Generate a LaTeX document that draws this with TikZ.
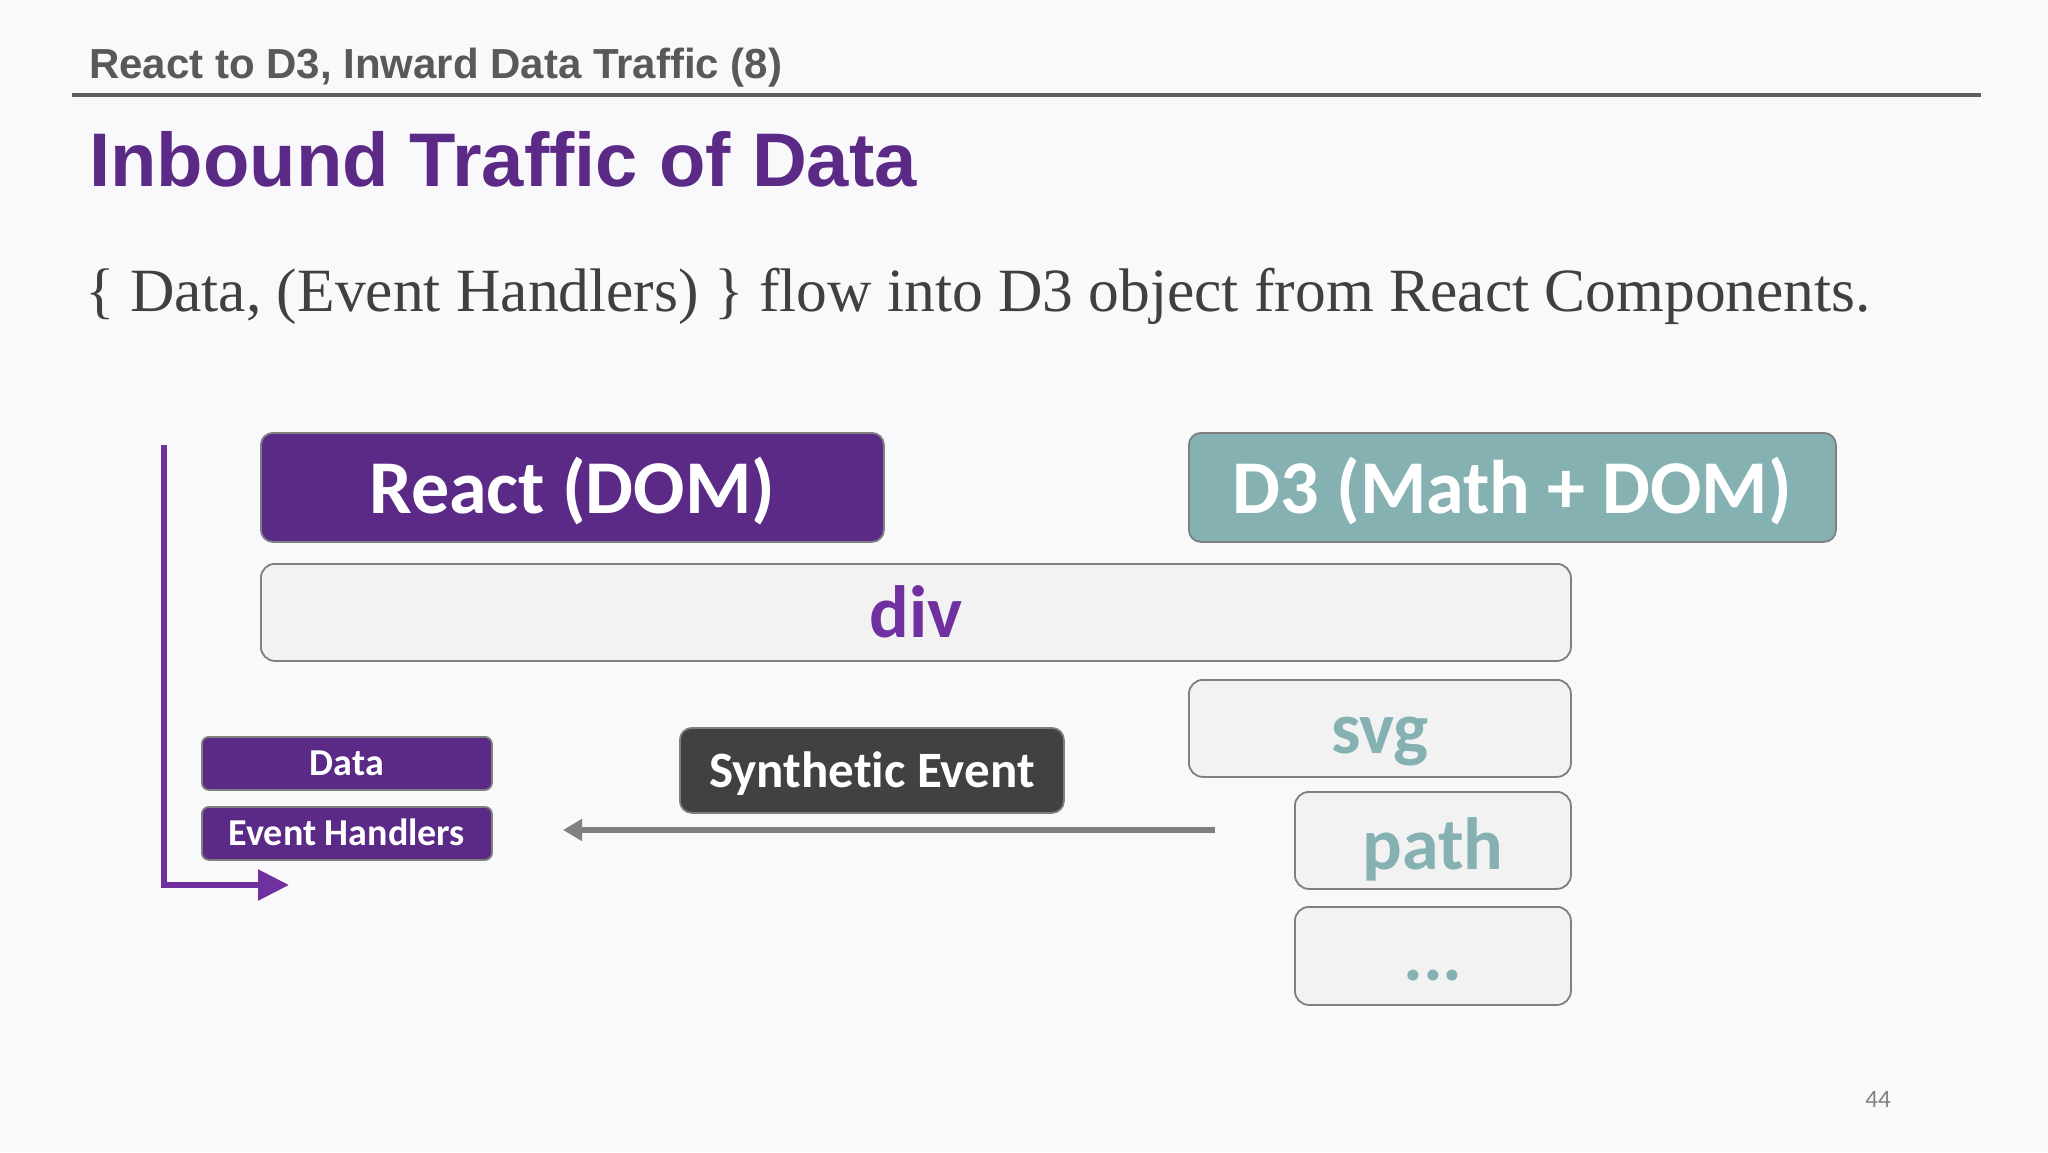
\documentclass[tikz,border=0pt]{standalone}
\usepackage{fontspec}
\setmainfont{Liberation Serif}
\newfontfamily\headfont{Liberation Sans}
\newfontfamily\calfont[Ligatures={NoCommon}]{Carlito}
\usepackage{tikz}
\usetikzlibrary{positioning,arrows.meta}

\definecolor{slidebg}{HTML}{F9F8FA}
\definecolor{rulegrey}{HTML}{5F5F5F}
\definecolor{headgrey}{HTML}{595959}
\definecolor{bodygrey}{HTML}{404040}
\definecolor{reactpurple}{HTML}{5B2A86}
\definecolor{divpurple}{HTML}{7030A0}
\definecolor{d3teal}{HTML}{85B1B3}
\definecolor{edgegrey}{HTML}{7F7F7F}
\definecolor{domfill}{HTML}{F2F2F3}
\definecolor{eventdark}{HTML}{414042}
\definecolor{flowgrey}{HTML}{808080}

\begin{document}
\begin{tikzpicture}
  [
    x=1pt, y=-1pt,
    box/.style      = {draw=edgegrey, line width=1.8pt, anchor=north west,
                       inner sep=0pt, rounded corners=12pt},
    libbox/.style   = {box, text=white,
                       font=\calfont\bfseries\fontsize{76}{80}\selectfont,
                       text height=62pt, text depth=9pt},
    domnode/.style  = {box, fill=domfill, rounded corners=14pt,
                       font=\calfont\bfseries\fontsize{74}{80}\selectfont,
                       text height=60pt, text depth=10pt},
    propbox/.style  = {box, fill=reactpurple, text=white, rounded corners=7pt,
                       minimum width=290pt, minimum height=53pt,
                       font=\calfont\bfseries\fontsize{38}{40}\selectfont,
                       text height=30pt, text depth=5pt},
  ]

  % slide background and frame
  \fill[slidebg] (0,0) rectangle (2048,1152);
  \useasboundingbox (0,0) rectangle (2048,1152);

  % heading
  \node (head) at (89,78) [anchor=base west, inner sep=0pt, text=headgrey,
    font=\headfont\bfseries\fontsize{42}{48}\selectfont]
    {React to D3, Inward Data Traffic (8)};
  \draw[rulegrey, line width=4pt] (72,95) -- (1981,95);
  \node (title) at (89,186) [anchor=base west, inner sep=0pt, text=reactpurple,
    font=\headfont\bfseries\fontsize{76}{80}\selectfont]
    {Inbound Traffic of Data};
  \node (intro) at (85,311) [anchor=base west, inner sep=0pt, text=bodygrey,
    font=\fontsize{61.5}{66}\selectfont]
    {\{ Data, (Event Handlers) \} flow into D3 object from React Components.};

  % the two libraries
  \node (react) at (260,432) [libbox, fill=reactpurple,
    minimum width=623pt, minimum height=109pt] {React (DOM)};
  \node (d3) at (1188,432) [libbox, fill=d3teal,
    minimum width=647pt, minimum height=109pt] {D3 (Math + DOM)};

  % dom tree
  \node (div) at (260,563) [domnode, text=divpurple,
    minimum width=1310pt, minimum height=97pt] {div};
  \node (svg) at (1188,679) [domnode, text=d3teal,
    minimum width=382pt, minimum height=97pt] {svg};
  \node (path) at (1294,791) [domnode, text=d3teal,
    minimum width=276pt, minimum height=97pt,
    text height=66pt, text depth=8pt] {path};
  \node (more) at (1294,906) [domnode, text=d3teal,
    minimum width=276pt, minimum height=98pt] {...};

  % props handed down
  \node (data) at (201,736) [propbox] {Data};
  \node (handlers) at (201,806) [propbox] {Event Handlers};

  % event coming back
  \node (synth) at (679,727) [box, fill=eventdark, text=white,
    minimum width=384pt, minimum height=85pt,
    font=\calfont\bfseries\fontsize{51}{56}\selectfont,
    text height=40pt, text depth=5pt] {Synthetic Event};
  \coordinate (evstart) at (1215,830);
  \coordinate (evend) at (563,830);
  \draw[flowgrey, line width=6pt, -{Triangle[length=19pt, width=21pt]}]
    (evstart) -- (evend);

  % inward flow
  \coordinate (flowtop) at (164,445);
  \coordinate (flowend) at (289,885);
  \draw[divpurple, line width=5.5pt, -{Triangle[length=31pt, width=30pt]}]
    (flowtop) |- (flowend);

  % page number
  \node (page) at (1878,1099) [text=flowgrey,
    font=\calfont\fontsize{25}{28}\selectfont] {44};
\end{tikzpicture}
\end{document}
